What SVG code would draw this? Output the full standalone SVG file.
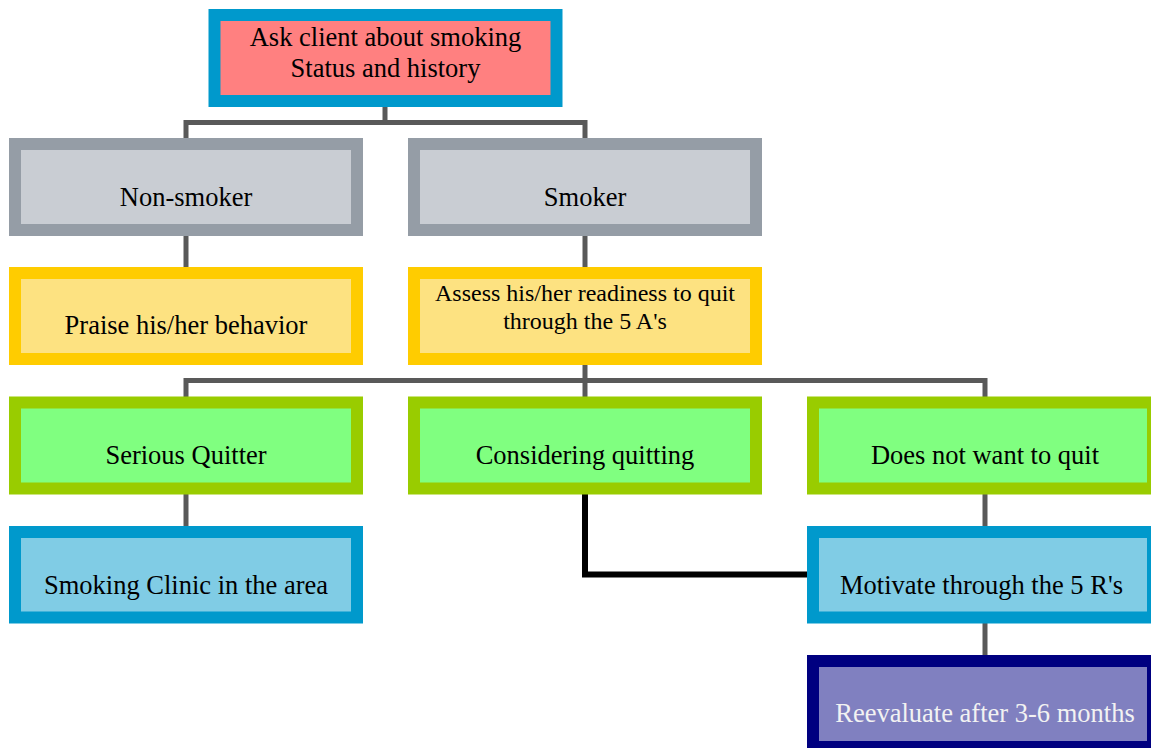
<svg xmlns="http://www.w3.org/2000/svg" width="1151" height="748" viewBox="0 0 1151 748">
<style>
.box{stroke-width:12}
.t{font-family:"Liberation Serif","Times New Roman",serif;font-size:26.5px;fill:#000;text-anchor:middle}
.ts{font-size:24px}
.conn{fill:none;stroke:#595959;stroke-width:5;stroke-linejoin:miter;stroke-linecap:butt}
.blk{fill:none;stroke:#000;stroke-width:6;stroke-linejoin:miter}
.red{fill:#FF8080;stroke:#0099CC}
.gray{fill:#C9CDD3;stroke:#959DA6}
.yel{fill:#FDE281;stroke:#FFCC00}
.grn{fill:#80FF80;stroke:#99CC00}
.blu{fill:#80CCE5;stroke:#0099CC}
.nav{fill:#8080C0;stroke:#000080}
</style>
<rect width="1151" height="748" fill="#fff"/>
<g id="connectors">
<polyline class="conn" points="186,138 186,122.5 585,122.5 585,138"/>
<line class="conn" x1="385" y1="107" x2="385" y2="122.5"/>
<line class="conn" x1="186" y1="236" x2="186" y2="267"/>
<line class="conn" x1="585" y1="236" x2="585" y2="267"/>
<line class="conn" x1="585" y1="365" x2="585" y2="397"/>
<polyline class="conn" points="186,397 186,380.5 985,380.5 985,397"/>
<line class="conn" x1="186" y1="494" x2="186" y2="526"/>
<line class="conn" x1="985" y1="494" x2="985" y2="526"/>
<line class="conn" x1="985" y1="623" x2="985" y2="655"/>
<polyline class="blk" points="585,494 585,574.5 807,574.5"/>
</g>
<g id="node-ask">
<rect class="box red" x="214.5" y="15" width="342" height="86"/>
<text class="t" x="385.5" y="46">Ask client about smoking</text>
<text class="t" x="385.5" y="77">Status and history</text>
</g>
<g id="node-nonsmoker">
<rect class="box gray" x="15" y="144" width="342" height="86"/>
<text class="t" x="186" y="206">Non-smoker</text>
</g>
<g id="node-smoker">
<rect class="box gray" x="414" y="144" width="342" height="86"/>
<text class="t" x="585" y="206">Smoker</text>
</g>
<g id="node-praise">
<rect class="box yel" x="15" y="273" width="342" height="86"/>
<text class="t" x="186" y="334">Praise his/her behavior</text>
</g>
<g id="node-assess">
<rect class="box yel" x="414" y="273" width="342" height="86"/>
<text class="t ts" x="585" y="301">Assess his/her readiness to quit</text>
<text class="t ts" x="585" y="328.5">through the 5 A's</text>
</g>
<g id="node-serious">
<rect class="box grn" x="15" y="402.5" width="342" height="86"/>
<text class="t" x="186" y="463.5">Serious Quitter</text>
</g>
<g id="node-considering">
<rect class="box grn" x="414" y="402.5" width="342" height="86"/>
<text class="t" x="585" y="463.5">Considering quitting</text>
</g>
<g id="node-notquit">
<rect class="box grn" x="813" y="402.5" width="340" height="86"/>
<text class="t" x="985" y="463.5">Does not want to quit</text>
</g>
<g id="node-clinic">
<rect class="box blu" x="15" y="532" width="342" height="85.5"/>
<text class="t" x="186" y="593.5">Smoking Clinic in the area</text>
</g>
<g id="node-motivate">
<rect class="box blu" x="813" y="532" width="340" height="85.5"/>
<text class="t" x="981.5" y="593.5">Motivate through the 5 R's</text>
</g>
<g id="node-reevaluate">
<rect class="box nav" x="813" y="661" width="340" height="86"/>
<text class="t" x="985" y="722" style="fill:#F2F2F2">Reevaluate after 3-6 months</text>
</g>
</svg>
